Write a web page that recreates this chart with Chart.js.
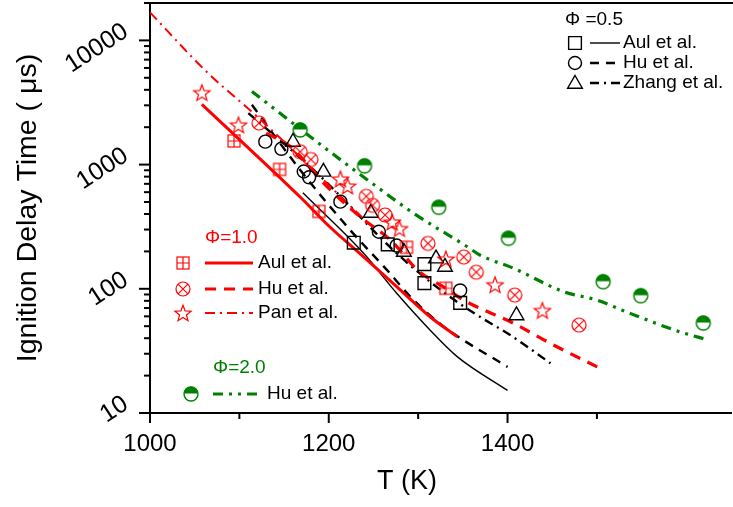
<!DOCTYPE html>
<html><head><meta charset="utf-8">
<script src="https://cdn.jsdelivr.net/npm/chart.js@4.4.1/dist/chart.umd.min.js"></script>
<style>html,body{margin:0;padding:0;background:#fff;}canvas{display:block;}</style>
</head><body>
<canvas id="c" width="733" height="507"></canvas>
<script>
// ---------- data ----------
const xTickValues = [1000, 1100, 1200, 1300, 1400, 1500];
const xTickLabels = ['1000', '', '1200', '', '1400', ''];
const yTickValues = [10, 100, 1000, 10000];
const yTickLabels = ['10', '100', '1000', '10000'];
const xTitle = 'T (K)';
const yTitle = 'Ignition Delay Time ( \u03bcs)';

// Phi = 1.0 experiments
const aulPhi1T = [1094, 1145, 1189, 1287, 1331];
const aulPhi1Delay = [1550, 915, 420, 216, 101];
const huPhi1T = [1122, 1168, 1180, 1242, 1249, 1263, 1311, 1351, 1365, 1408, 1480];
const huPhi1Delay = [2160, 1270, 1100, 555, 470, 393, 232, 180, 136, 89, 51];
const panPhi1T = [1058, 1099, 1213, 1221, 1271, 1279, 1331, 1386, 1439];
const panPhi1Delay = [3800, 2090, 767, 673, 345, 306, 174, 108, 67];
// Phi = 0.5 experiments
const aulPhi05T = [1228, 1266, 1307, 1307, 1347];
const aulPhi05Delay = [235, 228, 158, 111, 77];
const huPhi05T = [1129, 1147, 1172, 1178, 1213, 1256, 1276, 1347];
const huPhi05Delay = [1530, 1340, 880, 790, 503, 288, 223, 97];
const zhangPhi05T = [1160, 1194, 1247, 1284, 1320, 1330, 1410];
const zhangPhi05Delay = [1520, 873, 408, 198, 175, 150, 61];
// Phi = 2.0 experiments
const huPhi2T = [1168, 1240, 1323, 1401, 1507, 1549, 1619];
const huPhi2Delay = [1900, 977, 453, 255, 114, 88, 53];

// model curves
const aulPhi1ModelT = [1058, 1168, 1201, 1239, 1276, 1314, 1344];
const aulPhi1ModelDelay = [3050, 548, 316, 181, 104, 59, 41];
const huPhi1ModelT = [1130, 1157, 1198, 1235, 1269, 1300, 1331, 1351, 1407, 1448, 1501];
const huPhi1ModelDelay = [1790, 1396, 665, 381, 247, 140, 101, 81, 52.6, 36.3, 23.4];
const panPhi1ModelT = [1000, 1063, 1124, 1240];
const panPhi1ModelDelay = [16800, 5620, 2290, 360];
const aulPhi05ModelT = [1171, 1239, 1276, 1314, 1344, 1400];
const aulPhi05ModelDelay = [592, 193, 92, 46, 28.3, 15.2];
const huPhi05ModelT = [1114, 1168, 1224, 1265, 1295, 1329, 1400];
const huPhi05ModelDelay = [3030, 906, 297, 142, 81, 49.4, 23.5];
const zhangPhi05ModelT = [1110, 1187, 1276, 1325, 1362, 1403, 1448];
const zhangPhi05ModelDelay = [2600, 852, 193, 98, 64, 42.4, 25.2];
const huPhi2ModelT = [1114, 1201, 1246, 1295, 1355, 1369, 1407, 1463, 1500, 1537, 1593, 1623];
const huPhi2ModelDelay = [3880, 1274, 729, 405, 218, 187, 146, 94.6, 81, 63.4, 45, 39];

// ---------- helpers ----------
const RED = '#ff0000', GREEN = '#008000', BLACK = '#000000';
const FONT = '"Liberation Sans", Arial, sans-serif';
const pts = (t, v) => t.map((x, i) => ({x: x, y: v[i]}));

function glyph(size, draw) {
  const c = document.createElement('canvas');
  c.width = size; c.height = size;
  const g = c.getContext('2d');
  draw(g, size / 2);
  return c;
}
const starGlyph = glyph(20, (g, c) => {
  g.strokeStyle = RED; g.lineWidth = 1.2; g.beginPath();
  for (let i = 0; i < 10; i++) {
    const r = i % 2 === 0 ? 8.5 : 3.6;
    const a = -Math.PI / 2 + i * Math.PI / 5;
    const px = c + r * Math.cos(a), py = c + 0.8 + r * Math.sin(a);
    i === 0 ? g.moveTo(px, py) : g.lineTo(px, py);
  }
  g.closePath(); g.stroke();
});
const squarePlusGlyph = glyph(16, (g, c) => {
  g.strokeStyle = RED; g.lineWidth = 1.2;
  g.strokeRect(c - 6, c - 6, 12, 12);
  g.beginPath(); g.moveTo(c, c - 6); g.lineTo(c, c + 6); g.moveTo(c - 6, c); g.lineTo(c + 6, c); g.stroke();
});
const circleXGlyph = glyph(18, (g, c) => {
  g.strokeStyle = RED; g.lineWidth = 1.2;
  g.beginPath(); g.arc(c, c, 7, 0, Math.PI * 2); g.stroke();
  const d = 7 * Math.SQRT1_2;
  g.beginPath(); g.moveTo(c - d, c - d); g.lineTo(c + d, c + d); g.moveTo(c + d, c - d); g.lineTo(c - d, c + d); g.stroke();
});
const halfGlyph = glyph(18, (g, c) => {
  g.fillStyle = '#fff'; g.beginPath(); g.arc(c, c, 7, 0, Math.PI * 2); g.fill();
  g.fillStyle = GREEN; g.beginPath(); g.arc(c, c - 0.5, 7, Math.PI, 0); g.closePath(); g.fill();
  g.strokeStyle = GREEN; g.lineWidth = 1.4; g.beginPath(); g.arc(c, c, 7, 0, Math.PI * 2); g.stroke();
});

function markerSet(label, data, style, radius, color) {
  return {label: label, data: data, showLine: false, order: 0,
    pointStyle: style, pointRadius: radius, pointHoverRadius: radius,
    pointBorderColor: color, pointBackgroundColor: 'rgba(0,0,0,0)', pointBorderWidth: 1.4,
    borderColor: color, backgroundColor: 'rgba(0,0,0,0)'};
}
function lineSet(label, data, color, width, dash) {
  return {label: label, data: data, showLine: true, order: 1, pointRadius: 0, pointHoverRadius: 0,
    borderColor: color, borderWidth: width, borderDash: dash, borderCapStyle: 'butt',
    cubicInterpolationMode: 'monotone', fill: false};
}

const datasets = [
  markerSet('Aul et al. (\u03a6=1.0)', pts(aulPhi1T, aulPhi1Delay), squarePlusGlyph, 6, RED),
  markerSet('Hu et al. (\u03a6=1.0)', pts(huPhi1T, huPhi1Delay), circleXGlyph, 6, RED),
  markerSet('Pan et al. (\u03a6=1.0)', pts(panPhi1T, panPhi1Delay), starGlyph, 6, RED),
  markerSet('Aul et al. (\u03a6=0.5)', pts(aulPhi05T, aulPhi05Delay), 'rect', 9, BLACK),
  markerSet('Hu et al. (\u03a6=0.5)', pts(huPhi05T, huPhi05Delay), 'circle', 6.5, BLACK),
  markerSet('Zhang et al. (\u03a6=0.5)', pts(zhangPhi05T, zhangPhi05Delay), 'triangle', 8.5, BLACK),
  markerSet('Hu et al. (\u03a6=2.0)', pts(huPhi2T, huPhi2Delay), halfGlyph, 6, GREEN),
  lineSet('Aul et al. model (\u03a6=1.0)', pts(aulPhi1ModelT, aulPhi1ModelDelay), RED, 3, []),
  lineSet('Hu et al. model (\u03a6=1.0)', pts(huPhi1ModelT, huPhi1ModelDelay), RED, 3.2, [11, 8]),
  lineSet('Pan et al. model (\u03a6=1.0)', pts(panPhi1ModelT, panPhi1ModelDelay), RED, 2, [10, 5, 2, 5]),
  lineSet('Aul et al. model (\u03a6=0.5)', pts(aulPhi05ModelT, aulPhi05ModelDelay), BLACK, 1.4, []),
  lineSet('Hu et al. model (\u03a6=0.5)', pts(huPhi05ModelT, huPhi05ModelDelay), BLACK, 2.4, [9, 7]),
  lineSet('Zhang et al. model (\u03a6=0.5)', pts(zhangPhi05ModelT, zhangPhi05ModelDelay), BLACK, 2.4, [9, 5, 2, 5]),
  lineSet('Hu et al. model (\u03a6=2.0)', pts(huPhi2ModelT, huPhi2ModelDelay), GREEN, 3.2, [10, 6, 3, 6, 3, 6])
];

// ---------- decorations: ticks, labels, titles, legend ----------
function seg(ctx, x1, y1, x2, y2) { ctx.beginPath(); ctx.moveTo(x1, y1); ctx.lineTo(x2, y2); ctx.stroke(); }

function legendMarker(ctx, style, x, y, radius, color) {
  if (typeof style === 'object') { ctx.drawImage(style, x - style.width / 2, y - style.height / 2); return; }
  ctx.save(); ctx.strokeStyle = color; ctx.lineWidth = 1.4; ctx.fillStyle = 'rgba(0,0,0,0)';
  Chart.helpers.drawPoint(ctx, {pointStyle: style, radius: radius, rotation: 0, borderWidth: 1.4}, x, y);
  ctx.restore();
}
function legendLine(ctx, x1, x2, y, color, width, dash) {
  ctx.save(); ctx.strokeStyle = color; ctx.lineWidth = width; ctx.setLineDash(dash); ctx.lineCap = 'butt';
  seg(ctx, x1, y, x2, y); ctx.restore();
}
function legendText(ctx, text, x, y, color) {
  ctx.save(); ctx.fillStyle = color; ctx.font = '19px ' + FONT; ctx.textAlign = 'left'; ctx.textBaseline = 'middle';
  ctx.fillText(text, x, y); ctx.restore();
}

const deco = {
  id: 'deco',
  afterDraw(chart) {
    const ctx = chart.ctx, a = chart.chartArea, xs = chart.scales.x, ys = chart.scales.y;
    ctx.save();
    ctx.strokeStyle = BLACK; ctx.lineWidth = 2;
    // top frame
    seg(ctx, a.left - 1, a.top, chart.width, a.top);
    // x ticks + labels
    ctx.fillStyle = BLACK; ctx.font = '24px ' + FONT; ctx.textAlign = 'center'; ctx.textBaseline = 'middle';
    xTickValues.forEach((v, i) => {
      const px = xs.getPixelForValue(v);
      seg(ctx, px, a.bottom, px, a.bottom + (xTickLabels[i] ? 10 : 6));
      if (xTickLabels[i]) ctx.fillText(xTickLabels[i], px, a.bottom + 31);
    });
    // y ticks (major decades + minor 2..9)
    yTickValues.forEach(d => {
      for (let m = 1; m <= 9; m++) {
        const v = d * m;
        if (v > ys.max) break;
        const py = ys.getPixelForValue(v);
        seg(ctx, a.left - (m === 1 ? 11 : 6), py, a.left, py);
      }
    });
    // rotated y labels
    yTickValues.forEach((v, i) => {
      const py = ys.getPixelForValue(v);
      ctx.save(); ctx.translate(126, py - 11); ctx.rotate(-33 * Math.PI / 180);
      ctx.textAlign = 'right'; ctx.textBaseline = 'middle'; ctx.font = '25px ' + FONT;
      ctx.fillText(yTickLabels[i], 0, 0); ctx.restore();
    });
    // axis titles
    ctx.textAlign = 'center'; ctx.textBaseline = 'middle';
    ctx.font = '27px ' + FONT;
    ctx.fillText(xTitle, 407, 482);
    ctx.font = '28.5px ' + FONT;
    ctx.save(); ctx.translate(28, 208); ctx.rotate(-Math.PI / 2); ctx.fillText(yTitle, 0, 0); ctx.restore();
    ctx.restore();

    // legend: Phi = 0.5 (top right)
    legendText(ctx, '\u03a6 =0.5', 565, 20, BLACK);
    legendMarker(ctx, 'rect', 575, 43, 9, BLACK);
    legendLine(ctx, 590, 620, 43, BLACK, 1.4, []);
    legendText(ctx, 'Aul et al.', 623, 43, BLACK);
    legendMarker(ctx, 'circle', 575, 63, 6.5, BLACK);
    legendLine(ctx, 590, 620, 63, BLACK, 2.4, [9, 7]);
    legendText(ctx, 'Hu et al.', 623, 63, BLACK);
    legendMarker(ctx, 'triangle', 575, 84, 8.5, BLACK);
    legendLine(ctx, 590, 620, 83, BLACK, 2.4, [9, 5, 2, 5]);
    legendText(ctx, 'Zhang et al.', 623, 83, BLACK);
    // legend: Phi = 1.0
    legendText(ctx, '\u03a6=1.0', 205, 238, RED);
    legendMarker(ctx, squarePlusGlyph, 183, 263, 6, RED);
    legendLine(ctx, 205, 253, 263, RED, 3, []);
    legendText(ctx, 'Aul et al.', 258, 263, BLACK);
    legendMarker(ctx, circleXGlyph, 183, 289, 6, RED);
    legendLine(ctx, 205, 253, 289, RED, 3.2, [11, 8]);
    legendText(ctx, 'Hu et al.', 258, 289, BLACK);
    legendMarker(ctx, starGlyph, 183, 313, 6, RED);
    legendLine(ctx, 205, 253, 313, RED, 2, [10, 5, 2, 5]);
    legendText(ctx, 'Pan et al.', 258, 313, BLACK);
    // legend: Phi = 2.0
    legendText(ctx, '\u03a6=2.0', 213, 368, GREEN);
    legendMarker(ctx, halfGlyph, 191, 394, 6, GREEN);
    legendLine(ctx, 213, 258, 394, GREEN, 3.2, [10, 6, 3, 6, 3, 6]);
    legendText(ctx, 'Hu et al.', 267, 394, BLACK);
  }
};

new Chart(document.getElementById('c'), {
  type: 'line',
  data: {datasets: datasets},
  options: {
    responsive: false, animation: false,
    layout: {autoPadding: false, padding: {left: 150, right: 2, top: 3, bottom: 94}},
    plugins: {legend: {display: false}, tooltip: {enabled: false}},
    scales: {
      x: {type: 'linear', min: 1000, max: 1650,
          ticks: {display: false}, grid: {display: false, drawTicks: false},
          border: {display: true, color: BLACK, width: 2}},
      y: {type: 'logarithmic', min: 10, max: 20000,
          ticks: {display: false}, grid: {display: false, drawTicks: false},
          border: {display: true, color: BLACK, width: 2}}
    }
  },
  plugins: [deco]
});
</script></body></html>
